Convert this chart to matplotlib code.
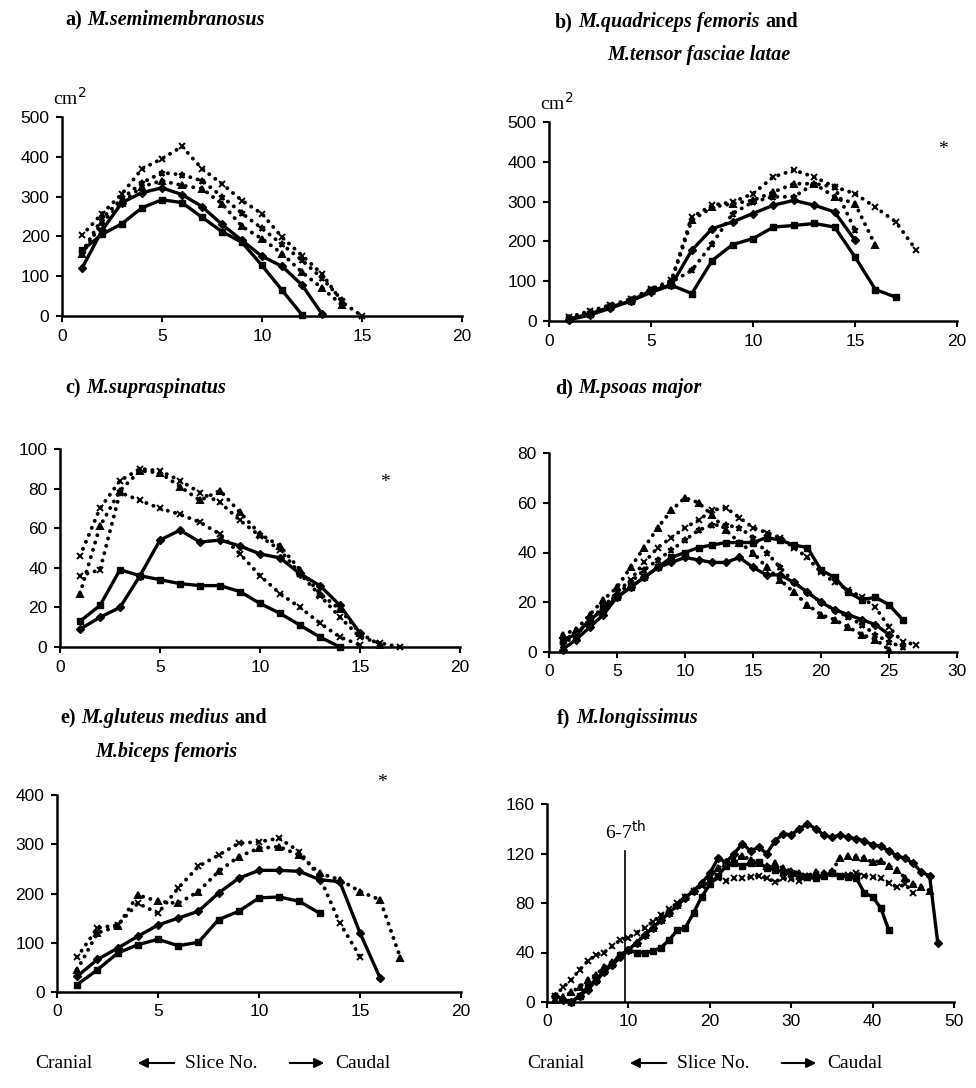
import matplotlib
matplotlib.use("Agg")
import matplotlib.pyplot as plt
import numpy as np

W, H = 976, 1088

# --- a) M.semimembranosus (cm2 per slice) ---
a_sq = [165, 205, 232, 272, 292, 285, 248, 212, 185, 127, 65, 3]
a_dia = [120, 215, 285, 310, 322, 305, 275, 230, 190, 150, 125, 78, 5]
a_x = [203, 257, 307, 370, 395, 426, 370, 332, 290, 257, 198, 152, 106, 35, 0]
a_star = [160, 245, 295, 335, 360, 355, 340, 300, 258, 220, 180, 140, 95, 40]
a_tri = [155, 235, 285, 325, 340, 328, 320, 282, 225, 194, 157, 110, 70, 28]

# --- b) M.quadriceps femoris + M.tensor fasciae latae ---
b_sq = [5, 18, 35, 50, 77, 90, 69, 152, 192, 207, 236, 240, 245, 236, 161, 79, 60]
b_dia = [3, 15, 32, 50, 72, 90, 178, 232, 249, 270, 291, 303, 291, 274, 203]
b_x = [10, 25, 40, 55, 80, 102, 261, 291, 299, 320, 362, 379, 362, 337, 320, 286, 249, 178]
b_tri = [8, 22, 38, 52, 75, 100, 253, 286, 295, 303, 324, 345, 345, 312, 295, 190]
b_star = [8, 20, 36, 52, 78, 98, 127, 194, 270, 299, 312, 312, 345, 337, 228]

# --- c) M.supraspinatus ---
c_sq = [13, 21, 39, 36, 34, 32, 31, 31, 28, 22, 17, 11, 5, 0]
c_dia = [9, 15, 20, 36, 54, 59, 53, 54, 51, 47, 45, 37, 31, 21, 7]
c_x = [46, 70, 84, 90, 89, 84, 78, 73, 64, 56, 49, 37, 26, 15, 5, 2, 0]
c_tri = [27, 61, 79, 89, 88, 81, 74, 79, 68, 57, 51, 39, 27, 19, 7, 1]
c_x2 = [36, 39, 78, 74, 70, 67, 63, 57, 47, 36, 27, 20, 12, 5, 1]

# --- d) M.psoas major ---
d_sq = [5, 7, 13, 17, 22, 26, 30, 34, 38, 40, 42, 43, 44, 44, 44, 46, 45, 43, 42, 33,
        30, 24, 21, 22, 19, 13]
d_dia = [1, 5, 10, 15, 22, 26, 30, 34, 36, 38, 37, 36, 36, 38, 34, 31, 31, 28, 24, 20,
         17, 15, 13, 11, 7]
d_tri = [7, 9, 15, 21, 26, 34, 42, 50, 57, 62, 60, 55, 49, 44, 40, 34, 29, 24, 19, 15,
         13, 10, 7, 5, 1]
d_x = [5, 7, 13, 18, 24, 29, 36, 42, 46, 50, 53, 57, 58, 54, 50, 48, 46, 42, 38, 32,
       28, 25, 22, 18, 10, 4, 3]
d_star = [3, 7, 12, 18, 23, 28, 33, 37, 41, 45, 49, 51, 51, 50, 46, 40, 34, 28, 24, 20,
          17, 14, 11, 7, 4, 2]

# --- e) M.gluteus medius + M.biceps femoris ---
e_dia = [32, 66, 89, 113, 136, 150, 164, 201, 231, 247, 247, 245, 228, 224, 120, 28]
e_sq = [15, 45, 79, 96, 107, 94, 101, 147, 164, 191, 193, 184, 160]
e_x = [71, 130, 136, 180, 160, 211, 255, 278, 302, 305, 312, 285, 234, 140, 72]
e_tri = [45, 120, 133, 197, 184, 180, 204, 245, 275, 292, 295, 278, 241, 228, 204, 187, 69]

# --- f) M.longissimus ---
f_dia_start = 1
f_dia = [5, 2, 0, 5, 10, 17, 24, 30, 36, 42, 48, 54, 60, 66, 72, 78, 84, 90, 96, 104,
         116, 113, 120, 128, 122, 125, 120, 130, 136, 135, 140, 144, 140, 135, 133, 135,
         133, 132, 130, 127, 126, 122, 118, 116, 112, 105, 102, 48]
f_sq_start = 3
f_sq = [0, 5, 12, 18, 25, 31, 38, 42, 40, 40, 41, 44, 50, 58, 60, 72, 85, 95, 102, 110,
        112, 110, 112, 113, 108, 107, 105, 104, 102, 101, 100, 102, 104, 102, 101, 100,
        88, 85, 76, 58]
f_x_start = 1
f_x = [5, 12, 18, 26, 33, 38, 40, 45, 50, 52, 56, 60, 65, 70, 75, 80, 85, 90, 94, 97,
       100, 98, 100, 100, 101, 102, 100, 97, 100, 99, 98, 100, 101, 103, 104, 102, 103,
       104, 102, 101, 100, 96, 93, 95, 88]
f_tri_start = 1
f_tri = [2, 4, 8, 12, 18, 22, 28, 32, 38, 42, 48, 54, 60, 66, 72, 78, 85, 90, 95, 102,
         108, 112, 115, 118, 115, 112, 110, 112, 108, 106, 104, 102, 105, 104, 106, 116,
         118, 117, 116, 113, 114, 110, 107, 100, 95, 93, 90]
f_mark_slice = 9.6   # 6-7th rib position
f_mark_top = 122

SERIF = ["Liberation Serif", "DejaVu Serif"]
SANS = ["Liberation Sans", "DejaVu Sans"]

fig = plt.figure(figsize=(W / 100, H / 100), dpi=100)
bg = fig.add_axes([0, 0, 1, 1])
bg.axis("off")
bg.set_zorder(-1)


def px_axes(left, top, right, bottom):
    return fig.add_axes([left / W, 1 - bottom / H, (right - left) / W, (bottom - top) / H])


def style(ax, xmax, xstep, ymax, ystep):
    ax.set_xlim(0, xmax)
    ax.set_ylim(0, ymax)
    ax.set_xticks(np.arange(0, xmax + 1, xstep))
    ax.set_yticks(np.arange(0, ymax + 1, ystep))
    for s in ["top", "right"]:
        ax.spines[s].set_visible(False)
    for s in ["left", "bottom"]:
        ax.spines[s].set_linewidth(1.8)
    ax.tick_params(direction="out", length=4, width=1.5, labelsize=12.5, pad=5)
    for lab in ax.get_xticklabels() + ax.get_yticklabels():
        lab.set_family(SANS)
    ax.set_facecolor("none")


def solid(ax, y, marker, start=1):
    x = np.arange(start, start + len(y))
    ax.plot(x, y, "-", color="black", lw=2.4, marker=marker, ms=4,
            clip_on=False, zorder=3)


def dotted(ax, y, marker, start=1):
    x = np.arange(start, start + len(y))
    ax.plot(x, y, color="black", lw=2.8, linestyle=(0, (0.05, 1.9)),
            dash_capstyle="round", marker=marker, ms=4.5, mew=1.4,
            clip_on=False, zorder=2)


def title(parts, x, y):
    prev = None
    for text, st in parts:
        kw = dict(family=SERIF, weight="bold", style=st, fontsize=14.5,
                  ha="left", va="center", annotation_clip=False)
        if prev is None:
            prev = bg.annotate(text, xy=(x, H - y), xycoords="figure pixels", **kw)
        else:
            prev = bg.annotate(text, xy=(1, 0.5), xycoords=prev,
                               xytext=(4, 0), textcoords="offset points", **kw)


# a
ax = px_axes(62, 117, 462, 316)
style(ax, 20, 5, 500, 100)
solid(ax, a_sq, "s")
solid(ax, a_dia, "D")
dotted(ax, a_x, "x")
dotted(ax, a_star, "*")
dotted(ax, a_tri, "^")

# b
ax = px_axes(549, 122, 957, 321)
style(ax, 20, 5, 500, 100)
solid(ax, b_sq, "s")
solid(ax, b_dia, "D")
dotted(ax, b_x, "x")
dotted(ax, b_tri, "^")
dotted(ax, b_star, "*")
ax.text(19.3, 430, "*", fontsize=14, family=SERIF, ha="center", va="center")

# c
ax = px_axes(60, 449, 460, 647)
style(ax, 20, 5, 100, 20)
solid(ax, c_sq, "s")
solid(ax, c_dia, "D")
dotted(ax, c_x, "x")
dotted(ax, c_tri, "^")
dotted(ax, c_x2, "x")
ax.text(16.25, 83, "*", fontsize=14, family=SERIF, ha="center", va="center")

# d
ax = px_axes(549, 453, 957, 652)
style(ax, 30, 5, 80, 20)
solid(ax, d_sq, "s")
solid(ax, d_dia, "D")
dotted(ax, d_tri, "^")
dotted(ax, d_x, "x")
dotted(ax, d_star, "*")

# e
ax = px_axes(57, 795, 461, 992)
style(ax, 20, 5, 400, 100)
solid(ax, e_dia, "D")
solid(ax, e_sq, "s")
dotted(ax, e_x, "x")
dotted(ax, e_tri, "^")
ax.text(16.1, 426, "*", fontsize=14, family=SERIF, ha="center", va="center", clip_on=False)

# f
ax = px_axes(547, 804, 954, 1002)
style(ax, 50, 10, 160, 40)
solid(ax, f_dia, "D", f_dia_start)
solid(ax, f_sq, "s", f_sq_start)
dotted(ax, f_x, "x", f_x_start)
dotted(ax, f_tri, "^", f_tri_start)
ax.plot([f_mark_slice, f_mark_slice], [0, f_mark_top], color="black", lw=1.2)
ax.text(f_mark_slice, f_mark_top + 6, "6-7$^{\\mathrm{th}}$", family=SERIF,
        fontsize=14, ha="center", va="bottom")

# cm2 labels
for x, y in [(53, 98), (540, 103)]:
    bg.text(x / W, 1 - y / H, "cm$^2$", family=SERIF, fontsize=14,
            ha="left", va="center", transform=fig.transFigure)

# panel titles
title([("a)", "normal"), ("M.semimembranosus", "italic")], 65, 20)
title([("b)", "normal"), ("M.quadriceps femoris", "italic"), ("and", "normal")], 555, 22)
title([("M.tensor fasciae latae", "italic")], 607, 55)
title([("c)", "normal"), ("M.supraspinatus", "italic")], 65, 388)
title([("d)", "normal"), ("M.psoas major", "italic")], 555, 388)
title([("e)", "normal"), ("M.gluteus medius", "italic"), ("and", "normal")], 60, 718)
title([("M.biceps femoris", "italic")], 95, 752)
title([("f)", "normal"), ("M.longissimus", "italic")], 557, 718)

# bottom direction labels
for off in [0, 492]:
    y = H - 1063
    kw = dict(family=SERIF, fontsize=14, va="center", xycoords="figure pixels")
    bg.annotate("Cranial", xy=(35 + off, y), ha="left", **kw)
    bg.annotate("Slice No.", xy=(185 + off, y), ha="left", **kw)
    bg.annotate("Caudal", xy=(335 + off, y), ha="left", **kw)
    arr = dict(arrowstyle="-|>", color="black", lw=1.5, mutation_scale=14)
    bg.annotate("", xy=(135 + off, y), xytext=(177 + off, y),
                xycoords="figure pixels", textcoords="figure pixels", arrowprops=arr)
    bg.annotate("", xy=(327 + off, y), xytext=(287 + off, y),
                xycoords="figure pixels", textcoords="figure pixels", arrowprops=arr)

fig.savefig("out.png", dpi=100)
